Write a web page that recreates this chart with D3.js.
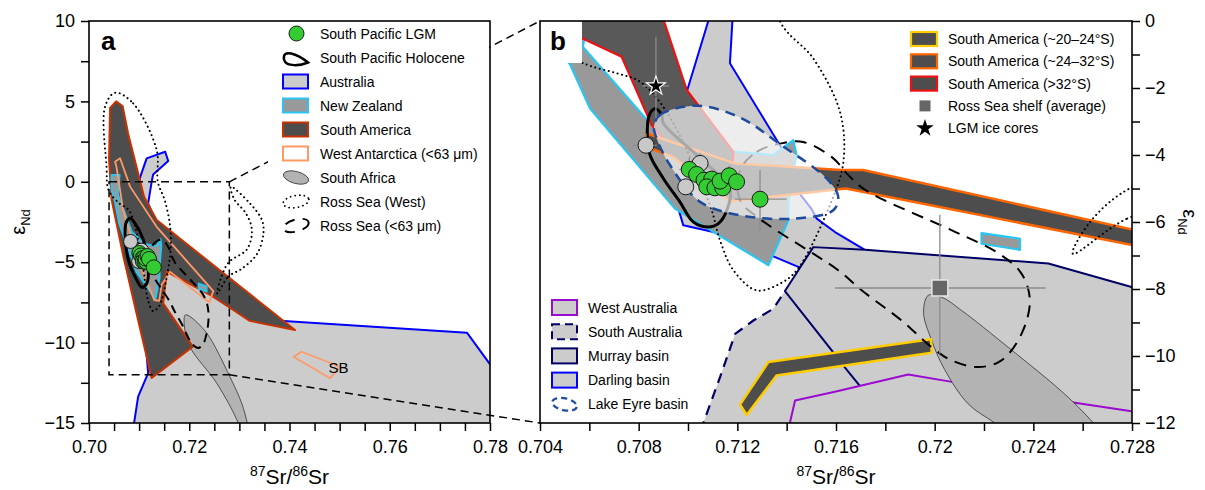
<!DOCTYPE html>
<html>
<head>
<meta charset="utf-8">
<script src="https://cdn.jsdelivr.net/npm/d3@7"></script>
<style>
  body { margin: 0; background: #fff; }
  svg { font-family: "Liberation Sans", Arial, Helvetica, sans-serif; }
</style>
</head>
<body>
<div id="chart"></div>
<script>
// outlines are [87Sr/86Sr, eNd] pairs

// ---- panel a ----
const australiaA = [[0.7085,-16],[0.7098,-13.36],[0.7118,-11.9],[0.7100,-5],[0.7101,0.2],[0.7115,1.46],[0.7152,1.87],[0.7158,1.3],[0.7128,0.45],[0.7125,0.0],[0.7118,-1.34],[0.7140,-3.0],[0.7248,-7.14],[0.7290,-7.95],[0.7381,-8.64],[0.7754,-9.38],[0.7820,-12.2],[0.7820,-16]];
const southAmericaA = [[0.7054,5.0],[0.7042,4.6],[0.7040,1.4],[0.7045,-1.1],[0.7069,-4.7],[0.7095,-8.2],[0.7125,-12.2],[0.7207,-10.25],[0.7148,-7.56],[0.7155,-5.59],[0.7248,-7.14],[0.7320,-8.64],[0.7411,-9.22],[0.7135,-2.38],[0.7110,-0.95],[0.7078,3.0],[0.7067,4.71]];
const westAntarctica = [[0.7052,1.25],[0.7062,1.46],[0.7082,-0.3],[0.7135,-2.8],[0.7248,-6.8],[0.7240,-7.5],[0.7162,-5.6],[0.7145,-6.4],[0.7140,-7.4],[0.7130,-7.35],[0.7100,-5.0],[0.7068,-1.75],[0.7055,0.9]];
const sbPolygon = [[0.7408,-10.88],[0.7424,-10.57],[0.7501,-11.5],[0.7481,-12.22]];
const southAfricaA = [[0.7192,-8.28],[0.7200,-8.35],[0.7235,-9.42],[0.7281,-12.12],[0.7305,-13.8],[0.7316,-15.0],[0.7330,-16.5],[0.7325,-16.9],[0.7315,-16.5],[0.7298,-15.0],[0.7255,-12.53],[0.7201,-10.25],[0.7190,-8.9]];
const holoceneA = [[0.70818,-2.27],[0.70918,-2.58],[0.71085,-3.62],[0.71184,-5.28],[0.71152,-6.32],[0.71052,-6.56],[0.70952,-6.1],[0.70785,-4.86],[0.70719,-3.2],[0.70745,-2.5]];

// ---- shared ----
const newZealand = [[0.7045,0.42],[0.7061,0.42],[0.70573,-0.77],[0.70853,-3.11],[0.7110,-3.85],[0.71346,-4.0],[0.71427,-3.56],[0.71440,-4.0],[0.71407,-5.4],[0.71407,-5.95],[0.71326,-7.29],[0.70947,-5.60],[0.70603,-2.61],[0.70522,-1.30],[0.7045,-0.5]];
const newZealandSmall = [[0.72190,-6.33],[0.72346,-6.50],[0.72346,-6.83],[0.72190,-6.65]];
const rossWest = [[0.7052,5.54],[0.7088,4.88],[0.7135,1.98],[0.71373,0],[0.71508,-1.12],[0.71616,-2.71],[0.7163,-4.2],[0.71575,-5.5],[0.71441,-7.44],[0.71373,-7.84],[0.71278,-8.04],[0.71184,-7.44],[0.7113,-6.55],[0.71089,-5.5],[0.70913,-2.71],[0.70805,-1.81],[0.70711,-1.56],[0.70589,-1.30],[0.7039,-0.51],[0.7035,0.94],[0.7032,4.67]];
const rossWestArc = [[0.7256,-6.95],[0.7278,-5.9],[0.7305,-5.4],[0.7335,-4.5],[0.7348,-3.2],[0.7345,-2.38],[0.7321,-1.34],[0.7283,-0.3],[0.7290,-1.1],[0.7313,-1.96],[0.7325,-3.0],[0.7315,-4.2],[0.7279,-5.0],[0.7263,-6.0]];
const rossSea63 = [[0.71211,-4.45],[0.71278,-3.91],[0.71373,-3.66],[0.71467,-3.61],[0.71589,-4.1],[0.71650,-4.6],[0.7172,-5.05],[0.7207,-6.25],[0.7226,-6.94],[0.72352,-7.54],[0.72386,-8.34],[0.72352,-9.34],[0.72271,-10.13],[0.72177,-10.33],[0.72068,-10.13],[0.71988,-9.74],[0.71866,-8.94],[0.71704,-8.04],[0.71609,-7.44],[0.7129,-5.9],[0.71211,-5.35]];
const holocene = [[0.70866,-2.62],[0.70893,-2.8],[0.70900,-3.05],[0.7105,-4.1],[0.7117,-5.0],[0.71160,-5.6],[0.71123,-6.05],[0.71082,-6.15],[0.71022,-6.0],[0.70967,-5.40],[0.70900,-4.70],[0.70846,-4.0],[0.70835,-3.41],[0.70843,-2.81]];
const coreTops = [[0.70830,-3.71],[0.71049,-4.25],[0.70991,-4.95]];
const lgm = [[0.71005,-4.43],[0.71035,-4.58],[0.71065,-4.75],[0.71096,-4.72],[0.71076,-4.95],[0.71109,-4.98],[0.71141,-4.98],[0.71130,-4.78],[0.71167,-4.62],[0.71197,-4.80],[0.71292,-5.32]];

// ---- panel b ----
const southAustralia = [[0.7100,-12.6],[0.71062,-12.0],[0.71130,-10.63],[0.71191,-9.34],[0.71265,-8.94],[0.71346,-8.59],[0.71393,-8.06],[0.7160,-8.0],[0.7175,-12.6]];
const darling = [[0.71103,0.5],[0.70995,-2.11],[0.7093,-4.0],[0.70961,-5.6],[0.70981,-6.1],[0.71103,-6.3],[0.71353,-7.05],[0.71447,-7.34],[0.7160,-7.3],[0.71717,-6.83],[0.71596,-6.3],[0.71522,-5.9],[0.7150,-5.6],[0.71447,-5.1],[0.7140,-4.3],[0.7138,-3.8],[0.71170,-1.26],[0.71184,0.5]];
const murray = [[0.71508,-6.75],[0.71717,-6.83],[0.72461,-7.24],[0.72798,-7.94],[0.7300,-8.4],[0.7300,-12.6],[0.7185,-12.6],[0.7180,-11.8],[0.71690,-10.83],[0.71629,-10.28],[0.71589,-9.89],[0.71393,-8.06]];
const westAustralia = [[0.7138,-12.6],[0.71413,-12.0],[0.71434,-11.33],[0.71600,-11.06],[0.71893,-10.55],[0.72076,-10.78],[0.72555,-11.38],[0.72798,-11.65],[0.7300,-11.9],[0.7300,-12.6]];
const lakeEyre = [[0.70862,-3.15],[0.70886,-2.81],[0.71035,-2.53],[0.71211,-2.88],[0.71373,-3.68],[0.71562,-4.70],[0.71609,-5.25],[0.71589,-5.65],[0.71427,-5.90],[0.71211,-5.80],[0.71049,-5.40],[0.70927,-4.30],[0.70873,-3.51]];
const southAfricaB = [[0.71974,-8.19],[0.72030,-8.25],[0.72109,-8.64],[0.72298,-9.74],[0.72541,-11.23],[0.7268,-12.3],[0.7282,-13.6],[0.7292,-15.0],[0.7295,-16.0],[0.7290,-16.4],[0.7282,-16.0],[0.7265,-14.6],[0.72400,-12.8],[0.72244,-12.0],[0.72136,-11.43],[0.72040,-10.4],[0.71988,-9.54],[0.71955,-8.7]];
const saSouth32 = [[0.7035,0.5],[0.70573,-0.52],[0.70731,-1.07],[0.70853,-3.11],[0.7095,-4.0],[0.7118,-4.3],[0.71184,-3.91],[0.71062,-2.71],[0.70995,-2.06],[0.70880,0.5]];
const sa24to32 = [[0.7083,-3.35],[0.7119,-4.25],[0.7162,-4.45],[0.7171,-4.45],[0.7300,-6.55],[0.7300,-6.98],[0.7164,-5.0],[0.7117,-5.38],[0.7094,-4.06],[0.7083,-3.75]];
const sa20to24 = [[0.71211,-11.45],[0.71326,-10.18],[0.71985,-9.50],[0.71988,-9.90],[0.71359,-10.58],[0.71238,-11.76]];
// error bars: [x, y, xlo, xhi, ylo, yhi]
const iceCore = [[0.70870,-1.94,0.70816,0.70924,-2.9,-0.47]];
const rossShelf = [[0.72021,-7.97,0.71596,0.72450,-9.93,-5.78]];
const lgmErr = [[0.71292,-5.32,0.71190,0.71400,-6.25,-4.45],[0.71005,-4.43,0.70965,0.71045,-4.78,-4.08],[0.71167,-4.62,0.71127,0.71207,-4.92,-4.32]];
const coreErr = [[0.70830,-3.71,0.70778,0.70873,-4.10,-3.36],[0.71049,-4.25,0.71015,0.71083,-4.55,-3.95]];

// ---- axes and legends ----
const xTicksA = [0.70, 0.72, 0.74, 0.76, 0.78];
const xTickLabelsA = ["0.70", "0.72", "0.74", "0.76", "0.78"];
const yTicksA = [-15, -10, -5, 0, 5, 10];
const yTickLabelsA = ["\u221215", "\u221210", "\u22125", "0", "5", "10"];
const xTicksB = [0.704, 0.708, 0.712, 0.716, 0.72, 0.724, 0.728];
const xTickLabelsB = ["0.704", "0.708", "0.712", "0.716", "0.72", "0.724", "0.728"];
const yTicksB = [-12, -10, -8, -6, -4, -2, 0];
const yTickLabelsB = ["\u221212", "\u221210", "\u22128", "\u22126", "\u22124", "\u22122", "0"];
const legendA = ["South Pacific LGM", "South Pacific Holocene", "Australia", "New Zealand", "South America",
  "West Antarctica (<63 \u03bcm)", "South Africa", "Ross Sea (West)", "Ross Sea (<63 \u03bcm)"];
const legendB1 = ["South America (~20\u201324\u00b0S)", "South America (~24\u201332\u00b0S)", "South America (>32\u00b0S)",
  "Ross Sea shelf (average)", "LGM ice cores"];
const legendB2 = ["West Australia", "South Australia", "Murray basin", "Darling basin", "Lake Eyre basin"];

const C = {
  light: "#cccccc", mid: "#999999", dark: "#4d4d4d", ellipse: "#b3b3b3",
  blue: "#0000ff", cyan: "#29c6f4", rust: "#c83200", peach: "#ff9966",
  orange: "#ff6600", yellow: "#ffcc00", red: "#ee1111", navy: "#000066",
  eyre: "#1e4b9c", purple: "#9a0ad0", green: "#33cc33", err: "#8c8c8c"
};

const svg = d3.select("#chart").append("svg")
  .attr("width", 1205).attr("height", 490);

const xA = d3.scaleLinear().domain([0.70, 0.78]).range([89, 490]);
const yA = d3.scaleLinear().domain([-15, 10]).range([423, 21]);
const xB = d3.scaleLinear().domain([0.704, 0.728]).range([540, 1132]);
const yB = d3.scaleLinear().domain([-12, 0]).range([423, 21]);

const defs = svg.append("defs");
defs.append("clipPath").attr("id", "clipA").append("rect")
  .attr("x", 89).attr("y", 21).attr("width", 401).attr("height", 402);
defs.append("clipPath").attr("id", "clipB").append("rect")
  .attr("x", 540).attr("y", 21).attr("width", 592).attr("height", 402);

function shape(g, sx, sy, pts, curve) {
  const line = d3.line().x(d => sx(d[0])).y(d => sy(d[1])).curve(curve || d3.curveLinearClosed);
  return g.append("path").attr("d", line(pts)).attr("stroke-linejoin", "round");
}
const smooth = d3.curveCatmullRomClosed.alpha(0.5);

function dotted(p) {
  return p.attr("fill", "none").attr("stroke", "#000").attr("stroke-width", 2)
    .attr("stroke-dasharray", "0.1 4.5").attr("stroke-linecap", "round");
}
function dashed(p) {
  return p.attr("fill", "none").attr("stroke", "#000").attr("stroke-width", 2)
    .attr("stroke-dasharray", "9 6");
}
function errorBars(g, sx, sy, rows) {
  rows.forEach(r => {
    g.append("line").attr("x1", sx(r[2])).attr("x2", sx(r[3])).attr("y1", sy(r[1])).attr("y2", sy(r[1]))
      .attr("stroke", C.err).attr("stroke-width", 1.3);
    g.append("line").attr("x1", sx(r[0])).attr("x2", sx(r[0])).attr("y1", sy(r[4])).attr("y2", sy(r[5]))
      .attr("stroke", C.err).attr("stroke-width", 1.3);
  });
}
function circles(g, sx, sy, pts, r, fill) {
  g.selectAll(null).data(pts).enter().append("circle")
    .attr("cx", d => sx(d[0])).attr("cy", d => sy(d[1])).attr("r", r)
    .attr("fill", fill).attr("stroke", "#1a1a1a").attr("stroke-width", 1);
}

// ================= panel a =================
const gA = svg.append("g").attr("clip-path", "url(#clipA)");
shape(gA, xA, yA, australiaA).attr("fill", C.light).attr("stroke", C.blue).attr("stroke-width", 2);
shape(gA, xA, yA, southAfricaA, smooth).attr("fill", C.ellipse).attr("stroke", "#333").attr("stroke-width", 0.8);
shape(gA, xA, yA, southAmericaA).attr("fill", C.dark).attr("stroke", C.rust).attr("stroke-width", 2);
shape(gA, xA, yA, newZealand).attr("fill", C.mid).attr("stroke", C.cyan).attr("stroke-width", 2);
shape(gA, xA, yA, newZealandSmall).attr("fill", C.mid).attr("stroke", C.cyan).attr("stroke-width", 2);
shape(gA, xA, yA, westAntarctica).attr("fill", "none").attr("stroke", C.peach).attr("stroke-width", 1.8);
shape(gA, xA, yA, sbPolygon).attr("fill", "none").attr("stroke", C.peach).attr("stroke-width", 1.8);
dotted(shape(gA, xA, yA, rossWest, smooth));
dotted(shape(gA, xA, yA, rossWestArc, smooth));
dashed(shape(gA, xA, yA, rossSea63, smooth));
shape(gA, xA, yA, holoceneA, smooth).attr("fill", "none").attr("stroke", "#000").attr("stroke-width", 3);
circles(gA, xA, yA, coreTops, 7, "#c8c8c8");
circles(gA, xA, yA, lgm, 7.5, C.green);

gA.append("text").attr("x", xA(0.7478)).attr("y", yA(-11.9)).attr("font-size", 15).text("SB");

// inset box for panel b
const [b0, b1] = xB.domain(), [c0, c1] = yB.domain();
svg.append("rect").attr("x", xA(b0)).attr("y", yA(c1))
  .attr("width", xA(b1) - xA(b0)).attr("height", yA(c0) - yA(c1))
  .attr("fill", "none").attr("stroke", "#000").attr("stroke-width", 1.5).attr("stroke-dasharray", "8 5");
svg.append("line").attr("x1", xA(b1)).attr("y1", yA(c1)).attr("x2", xB(b0)).attr("y2", yB(c1))
  .attr("stroke", "#000").attr("stroke-width", 1.5).attr("stroke-dasharray", "8 5");
svg.append("line").attr("x1", xA(b1)).attr("y1", yA(c0)).attr("x2", xB(b0)).attr("y2", yB(c0))
  .attr("stroke", "#000").attr("stroke-width", 1.5).attr("stroke-dasharray", "8 5");

// legend a
const legA = svg.append("g");
legA.append("rect").attr("x", 268).attr("y", 22).attr("width", 221).attr("height", 214).attr("fill", "#fff");
legendA.forEach((name, i) => {
  const cy = 33.5 + i * 24, x0 = 283, w = 25, h = 14;
  const g = legA.append("g");
  if (i === 0) {
    g.append("circle").attr("cx", x0 + w / 2 + 1).attr("cy", cy).attr("r", 7.5)
      .attr("fill", C.green).attr("stroke", "#1a1a1a");
  } else if (i === 1) {
    g.append("path").attr("d", `M${x0 + 1},${cy + 2} C${x0 - 1},${cy - 9} ${x0 + 14},${cy - 4} ${x0 + 25},${cy + 5} C${x0 + 18},${cy + 8} ${x0 + 3},${cy + 10} ${x0 + 1},${cy + 2}Z`)
      .attr("fill", "none").attr("stroke", "#000").attr("stroke-width", 2.5);
  } else if (i >= 2 && i <= 5) {
    const fills = [C.light, C.mid, C.dark, "#fff"], strokes = [C.blue, C.cyan, C.rust, C.peach];
    g.append("rect").attr("x", x0).attr("y", cy - h / 2).attr("width", w).attr("height", h)
      .attr("fill", fills[i - 2]).attr("stroke", strokes[i - 2]).attr("stroke-width", 2);
  } else if (i === 6) {
    g.append("ellipse").attr("cx", x0 + 13).attr("cy", cy).attr("rx", 13).attr("ry", 6)
      .attr("transform", `rotate(15,${x0 + 13},${cy})`)
      .attr("fill", C.ellipse).attr("stroke", "#333").attr("stroke-width", 0.8);
  } else if (i === 7) {
    dotted(g.append("ellipse").attr("cx", x0 + 13).attr("cy", cy).attr("rx", 13).attr("ry", 6)
      .attr("transform", `rotate(-10,${x0 + 13},${cy})`)).attr("stroke-width", 1.8);
  } else {
    dashed(g.append("ellipse").attr("cx", x0 + 13).attr("cy", cy).attr("rx", 13).attr("ry", 6)
      .attr("transform", `rotate(-15,${x0 + 13},${cy})`)).attr("stroke-dasharray", "10 8");
  }
  legA.append("text").attr("x", 320).attr("y", cy + 5).attr("font-size", 14).text(name);
});

// ================= panel b =================
const gB = svg.append("g").attr("clip-path", "url(#clipB)");
shape(gB, xB, yB, southAustralia).attr("fill", C.light).attr("stroke", C.navy).attr("stroke-width", 2.2).attr("stroke-dasharray", "10 7");
shape(gB, xB, yB, darling).attr("fill", C.light).attr("stroke", C.blue).attr("stroke-width", 2);
shape(gB, xB, yB, murray).attr("fill", C.light).attr("stroke", C.navy).attr("stroke-width", 2);
shape(gB, xB, yB, westAustralia).attr("fill", C.light).attr("stroke", C.purple).attr("stroke-width", 2);
shape(gB, xB, yB, southAfricaB, smooth).attr("fill", C.ellipse).attr("stroke", "#333").attr("stroke-width", 0.8);
shape(gB, xB, yB, newZealand).attr("fill", C.mid).attr("stroke", C.cyan).attr("stroke-width", 2.2);
shape(gB, xB, yB, saSouth32).attr("fill", "#595959").attr("stroke", C.red).attr("stroke-width", 2.2);
shape(gB, xB, yB, newZealandSmall).attr("fill", C.mid).attr("stroke", C.cyan).attr("stroke-width", 2.2);
shape(gB, xB, yB, sa24to32).attr("fill", C.dark).attr("stroke", C.orange).attr("stroke-width", 2.5);
shape(gB, xB, yB, sa20to24).attr("fill", C.dark).attr("stroke", C.yellow).attr("stroke-width", 2.5);
dotted(shape(gB, xB, yB, rossWest, smooth));
dotted(shape(gB, xB, yB, rossWestArc, smooth));
dashed(shape(gB, xB, yB, rossSea63, smooth)).attr("stroke-dasharray", "12 8");
shape(gB, xB, yB, holocene, smooth).attr("fill", "none").attr("stroke", "#000").attr("stroke-width", 3);
shape(gB, xB, yB, lakeEyre, smooth).attr("fill", "#ffffff").attr("fill-opacity", 0.65)
  .attr("stroke", C.eyre).attr("stroke-width", 2.5).attr("stroke-dasharray", "10 7");
errorBars(gB, xB, yB, iceCore);
errorBars(gB, xB, yB, rossShelf);
errorBars(gB, xB, yB, coreErr);
errorBars(gB, xB, yB, lgmErr);
circles(gB, xB, yB, coreTops, 8, "#c8c8c8");
circles(gB, xB, yB, lgm, 8, C.green);
gB.selectAll(null).data(iceCore).enter().append("path")
  .attr("d", d3.symbol(d3.symbolStar, 110)())
  .attr("transform", d => `translate(${xB(d[0])},${yB(d[1])})`)
  .attr("fill", "#000").attr("stroke", "#fff").attr("stroke-width", 1.2);
gB.selectAll(null).data(rossShelf).enter().append("rect")
  .attr("x", d => xB(d[0]) - 8).attr("y", d => yB(d[1]) - 8).attr("width", 16).attr("height", 16)
  .attr("fill", "#666").attr("stroke", "#e6e6e6").attr("stroke-width", 1.5);

svg.append("rect").attr("x", 540).attr("y", 21).attr("width", 42).attr("height", 42).attr("fill", "#fff");

// legend b (top right)
legendB1.forEach((name, i) => {
  const cy = 39 + i * 22.3, x0 = 911;
  if (i < 3) {
    svg.append("rect").attr("x", x0).attr("y", cy - 7).attr("width", 26).attr("height", 14)
      .attr("fill", C.dark).attr("stroke", [C.yellow, C.orange, C.red][i]).attr("stroke-width", 2.2);
  } else if (i === 3) {
    svg.append("rect").attr("x", x0 + 8.5).attr("y", cy - 5.5).attr("width", 11).attr("height", 11).attr("fill", "#666");
  } else {
    svg.append("path").attr("d", d3.symbol(d3.symbolStar, 95)())
      .attr("transform", `translate(${x0 + 14},${cy})`).attr("fill", "#000");
  }
  svg.append("text").attr("x", 948).attr("y", cy + 5).attr("font-size", 14).text(name);
});

// legend b (bottom left)
legendB2.forEach((name, i) => {
  const cy = 307.5 + i * 24.2, x0 = 552;
  if (i < 4) {
    const r = svg.append("rect").attr("x", x0).attr("y", cy - 7.5).attr("width", 25).attr("height", 15)
      .attr("fill", C.light).attr("stroke", [C.purple, C.navy, C.navy, C.blue][i]).attr("stroke-width", 2);
    if (i === 1) r.attr("stroke-dasharray", "8 5");
  } else {
    svg.append("ellipse").attr("cx", x0 + 12.5).attr("cy", cy).attr("rx", 12.5).attr("ry", 6)
      .attr("transform", `rotate(12,${x0 + 12.5},${cy})`)
      .attr("fill", "#fff").attr("stroke", C.eyre).attr("stroke-width", 2.2).attr("stroke-dasharray", "6 4");
  }
  svg.append("text").attr("x", 588).attr("y", cy + 5).attr("font-size", 14).text(name);
});

// ================= frames and axes =================
[[89, 401], [540, 592]].forEach(([x, w]) => {
  svg.append("rect").attr("x", x).attr("y", 21).attr("width", w).attr("height", 402)
    .attr("fill", "none").attr("stroke", "#000").attr("stroke-width", 1.6);
});

function label(vals, labels) {
  return d => {
    const k = vals.findIndex(v => Math.abs(v - d) < 1e-9);
    return k >= 0 ? labels[k] : "";
  };
}
function styleAxis(g) {
  g.select(".domain").remove();
  g.selectAll(".tick line").attr("stroke", "#000").attr("stroke-width", 1.5);
  g.selectAll(".tick text").attr("font-size", 18).attr("fill", "#000")
    .attr("font-family", "'Liberation Sans', Arial, sans-serif");
}

svg.append("g").attr("transform", "translate(0,423)")
  .call(d3.axisBottom(xA).tickValues(d3.range(0.70, 0.7801, 0.005)).tickSize(8).tickPadding(9)
    .tickFormat(label(xTicksA, xTickLabelsA))).call(styleAxis);
svg.append("g").attr("transform", "translate(89,0)")
  .call(d3.axisLeft(yA).tickValues(d3.range(-15, 10.01, 2.5)).tickSize(8).tickPadding(6)
    .tickFormat(label(yTicksA, yTickLabelsA))).call(styleAxis);
svg.append("g").attr("transform", "translate(0,423)")
  .call(d3.axisBottom(xB).tickValues(d3.range(0.704, 0.72801, 0.002)).tickSize(8).tickPadding(9)
    .tickFormat(label(xTicksB, xTickLabelsB))).call(styleAxis);
svg.append("g").attr("transform", "translate(1132,0)")
  .call(d3.axisRight(yB).tickValues(d3.range(-12, 0.01, 1)).tickSize(8).tickPadding(5)
    .tickFormat(label(yTicksB, yTickLabelsB))).call(styleAxis);

// axis titles
function srTitle(cx) {
  const t = svg.append("text").attr("x", cx).attr("y", 484).attr("text-anchor", "middle").attr("font-size", 21);
  t.append("tspan").attr("font-size", 14).attr("dy", -8).text("87");
  t.append("tspan").attr("dy", 8).text("Sr/");
  t.append("tspan").attr("font-size", 14).attr("dy", -8).text("86");
  t.append("tspan").attr("dy", 8).text("Sr");
}
srTitle((xA.range()[0] + xA.range()[1]) / 2);
srTitle((xB.range()[0] + xB.range()[1]) / 2);

function epsTitle(x, y, rot) {
  const t = svg.append("text").attr("transform", `translate(${x},${y}) rotate(${rot})`)
    .attr("text-anchor", "middle").attr("font-size", 20);
  t.append("tspan").text("\u03b5");
  t.append("tspan").attr("font-size", 13).attr("dy", 5).text("Nd");
}
epsTitle(25, 222, -90);
epsTitle(1183, 222, 90);

svg.append("text").attr("x", 101).attr("y", 50).attr("font-size", 26).attr("font-weight", "bold").text("a");
svg.append("text").attr("x", 550).attr("y", 50).attr("font-size", 26).attr("font-weight", "bold").text("b");
</script>
</body>
</html>
